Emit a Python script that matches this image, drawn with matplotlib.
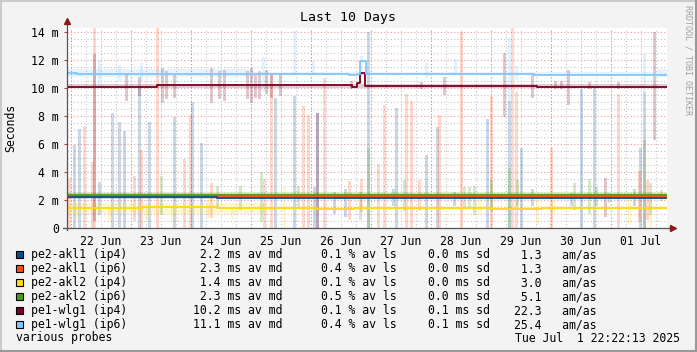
import matplotlib
matplotlib.use("Agg")
import matplotlib.pyplot as plt
import matplotlib.dates as mdates
from matplotlib.ticker import MultipleLocator, FuncFormatter
from matplotlib.lines import Line2D
from matplotlib.patches import Rectangle
from datetime import datetime, timedelta

plt.rcParams['font.family'] = ['DejaVu Sans Mono']

W, H = 697, 352
start = datetime(2025, 6, 21, 22, 22, 13)
span_h = 240  # 10 days

# targets, colours and summary columns
names = ["pe2-akl1 (ip4)", "pe2-akl1 (ip6)", "pe2-akl2 (ip4)",
         "pe2-akl2 (ip6)", "pe1-wlg1 (ip4)", "pe1-wlg1 (ip6)"]
colors = ["#0e4d8c", "#ff4a17", "#ffd816", "#4c9a1c", "#780024", "#84c6f8"]
av_md = [2.2, 2.3, 1.4, 2.3, 10.2, 11.1]
av_ls = [0.1, 0.4, 0.1, 0.5, 0.1, 0.4]
av_sd = [0.0, 0.0, 0.0, 0.0, 0.1, 0.1]
am_as = [1.3, 1.3, 3.0, 5.1, 22.3, 25.4]

# median lines: (hours since start, ms)
med_akl1_v4 = [(0, 2.19), (60, 2.17), (75, 2.12), (95, 2.16), (120, 2.13), (140, 2.16), (160, 2.14), (240, 2.14)]
med_akl1_v6 = [(0, 2.3), (240, 2.3)]
med_akl2_v4 = [(0, 1.45), (30, 1.47), (60, 1.45), (85, 1.40), (100, 1.36), (115, 1.42),
               (140, 1.40), (170, 1.37), (190, 1.40), (240, 1.40)]
med_akl2_v6 = [(0, 2.37), (240, 2.37)]
med_wlg1_v4 = [(0, 10.1), (36, 10.2), (114, 10.1), (116, 10.33), (117.4, 11.1),
               (119.4, 10.17), (188, 10.06), (240, 10.06)]
med_wlg1_v6 = [(0, 11.05), (4, 11.0), (113, 10.95), (116, 11.0), (117.4, 11.9),
               (119.8, 11.0), (187, 10.93), (240, 10.93)]

# background smoke bands: (from h, to h, low ms, high ms)
band_akl1_v4 = [(0, 240, 2.05, 2.35)]
band_akl1_v6 = [(0, 240, 2.15, 2.45)]
band_akl2_v4 = [(0, 80, 1.0, 1.75), (80, 240, 1.25, 1.6)]
band_akl2_v6 = [(0, 240, 2.2, 2.55)]
band_wlg1_v4 = [(0, 240, 10.0, 10.3)]
band_wlg1_v6 = [(0, 75, 10.75, 11.35), (75, 236, 10.95, 11.15), (236, 240, 10.75, 11.35)]

# smoke spikes: (hours since start, low ms, high ms)
spk_akl1_v4 = [(3.1, 0, 5.9), (5.1, 0, 7.1), (13.0, 0.9, 3.3), (18.2, 0, 8.2), (21.0, 0, 7.6),
               (23.0, 0, 6.9), (29.1, 0, 10.1), (33.0, 0, 7.6), (43.1, 0, 7.9), (50.2, 0, 9.0),
               (54.0, 0, 6.05), (83.5, 0, 9.3), (91.2, 0, 9.4), (99.0, 0, 2.9), (100.3, 0, 8.2),
               (107.1, 1.0, 2.6), (111.4, 0.8, 2.8), (120.7, 0, 14.0), (130.6, 1.6, 2.8),
               (131.9, 0, 8.55), (144.0, 0, 5.2), (148.4, 0, 7.2), (155.1, 1.6, 2.6),
               (168.3, 0, 7.8), (177.1, 0, 9.1), (181.9, 0, 5.7), (186.2, 1.6, 2.8),
               (202.0, 1.6, 2.5), (205.9, 0, 9.9), (211.1, 0, 10.0), (227.1, 1.6, 2.8),
               (229.4, 0, 5.7), (231.1, 0, 9.7)]
spk_akl1_v6 = [(1.0, 0, 3.6), (7.1, 0, 7.3), (10.2, 0, 4.7), (11.1, 0, 14.4), (27.0, 0.5, 3.7),
               (30.0, 0, 5.6), (36.2, 0, 14.4), (47.1, 0, 4.9), (49.4, 0, 8.1), (57.9, 0.7, 3.2),
               (79.1, 0, 3.5), (82.0, 0, 11.0), (94.7, 0, 8.7), (96.7, 0, 8.1), (103.1, 0, 10.7),
               (113.0, 0.6, 3.35), (118.0, 1.15, 3.5), (124.8, 0, 4.6), (127.1, 0, 8.8),
               (136.0, 0, 9.6), (138.0, 0, 9.1), (141.0, 1.2, 3.4), (149.1, 0, 8.1),
               (158.0, 0, 14.0), (169.9, 0, 9.4), (178.4, 0, 14.4), (179.9, 0, 9.7),
               (193.9, 0, 5.7), (220.7, 0, 9.6), (229.1, 0.45, 4.1), (232.4, 0.6, 3.4)]
spk_akl2_v4 = [(4.0, 0.6, 1.8), (17.0, 0.5, 1.6), (32.5, 0.6, 1.5), (42.5, 0.4, 1.5),
               (56.6, 0.7, 2.0), (66.2, 0.6, 1.5), (87.1, 0, 2.95), (165.2, 0.9, 2.2),
               (188.3, 0.3, 2.3), (194.6, 1.0, 2.0), (225.2, 0.3, 2.2), (233.4, 0, 2.6)]
spk_akl2_v6 = [(37.8, 0.9, 3.7), (60.2, 1.5, 3.0), (69.4, 1.3, 3.0), (78.0, 0.45, 4.0),
               (92.6, 1.5, 3.0), (117.4, 0.6, 2.6), (120.7, 0, 5.7), (135.1, 1.2, 3.4),
               (159.0, 1.4, 2.9), (161.2, 1.4, 2.9), (163.2, 0.9, 3.0), (169.9, 1.2, 3.4),
               (177.1, 0, 4.3), (180.2, 1.6, 3.4), (203.2, 1.3, 3.2), (209.1, 1.0, 3.5),
               (211.8, 1.6, 2.9), (217.0, 1.8, 2.5), (231.1, 0, 6.3), (233.4, 0.9, 3.2),
               (237.9, 1.9, 2.7)]
spk_wlg1_v4 = [(11.1, 0.5, 12.4), (24.0, 9.1, 11.0), (29.1, 9.4, 10.8), (38.2, 8.9, 11.4),
               (40.0, 9.2, 11.2), (43.1, 9.3, 11.0), (57.9, 8.9, 11.4), (61.2, 9.2, 11.2),
               (63.0, 9.1, 11.3), (72.2, 9.2, 11.2), (74.0, 8.9, 11.4), (75.4, 9.3, 11.0),
               (77.1, 9.2, 11.2), (80.0, 9.6, 11.3), (82.0, 9.3, 11.0), (85.4, 9.4, 11.1),
               (100.3, 0, 8.2), (114.0, 9.9, 10.5), (142.0, 9.9, 10.4), (151.1, 9.5, 10.8),
               (175.1, 7.95, 12.5), (186.2, 9.3, 10.9), (195.4, 9.9, 10.5), (198.0, 9.9, 10.5),
               (200.9, 8.8, 11.3), (209.1, 9.9, 10.4), (215.7, 0.8, 3.6), (220.7, 9.9, 10.4),
               (235.1, 6.3, 14.0)]
spk_wlg1_v6 = [(13.0, 10.0, 12.0), (21.0, 10.5, 11.65), (30.0, 10.5, 11.8), (78.6, 9.74, 12.24),
               (91.2, 10.9, 14.1), (98.7, 10.9, 11.9), (117.8, 10.9, 12.3), (144.0, 10.7, 11.8),
               (155.6, 10.9, 12.1), (177.1, 9.1, 13.55), (179.9, 10.6, 11.6), (231.1, 9.74, 12.5)]

medians = [med_akl1_v4, med_akl1_v6, med_akl2_v4, med_akl2_v6, med_wlg1_v4, med_wlg1_v6]
bands = [band_akl1_v4, band_akl1_v6, band_akl2_v4, band_akl2_v6, band_wlg1_v4, band_wlg1_v6]
spikes = [spk_akl1_v4, spk_akl1_v6, spk_akl2_v4, spk_akl2_v6, spk_wlg1_v4, spk_wlg1_v6]

t0 = mdates.date2num(start)
def tx(h):
    return t0 + h / 24.0

def px(x, y):
    return x / W, 1 - y / H

fig = plt.figure(figsize=(W / 100, H / 100), dpi=100, facecolor="#f3f3f3")
ax = fig.add_axes([66.6 / W, 1 - 228 / H, 600 / W, 200.5 / H], facecolor="white")

# smoke
for i in range(6):
    for h0, h1, lo, hi in bands[i]:
        ax.fill_between([tx(h0), tx(h1)], [lo, lo], [hi, hi], color=colors[i], alpha=0.2, lw=0, zorder=2)
    xs = [tx(s[0]) for s in spikes[i]]
    ax.bar(xs, [s[2] - s[1] for s in spikes[i]], bottom=[s[1] for s in spikes[i]],
           width=1.2 / 24, color=colors[i], alpha=0.22, lw=0, zorder=2)

# medians
for i in [2, 3, 1, 0, 4, 5]:
    ax.step([tx(p[0]) for p in medians[i]], [p[1] for p in medians[i]], where='post',
            color=colors[i], lw=1.3, zorder=4)

ax.set_xlim(tx(0), tx(span_h))
ax.set_ylim(0, 14.32)

# grid
grid_major = dict(color="#f08c8c", lw=0.8, ls=(0, (1, 2)), alpha=0.9)
grid_minor = dict(color="#c4c4c4", lw=0.8, ls=(0, (1, 2)))
ax.yaxis.set_major_locator(MultipleLocator(2))
ax.yaxis.set_minor_locator(MultipleLocator(0.5))
ax.yaxis.set_major_formatter(FuncFormatter(lambda v, p: "0" if v == 0 else "%d m" % v))
ax.grid(which="major", axis="y", **grid_major)
ax.grid(which="minor", axis="y", **grid_minor)
ax.xaxis.set_major_locator(mdates.HourLocator(byhour=[12]))
ax.xaxis.set_major_formatter(mdates.DateFormatter("%d %b"))
ax.xaxis.set_minor_locator(mdates.HourLocator(byhour=[0, 6, 18]))
ax.grid(which="minor", axis="x", **grid_minor)
ax.grid(which="major", axis="x", **grid_minor)
day = datetime(2025, 6, 22)
while day < start + timedelta(days=10):
    ax.axvline(mdates.date2num(day), zorder=1.5, **grid_major)
    day += timedelta(days=1)
ax.set_axisbelow(True)

ax.tick_params(axis="y", which="major", length=2.5, width=0.8, color="#b04040", pad=3, labelsize=8.3)
ax.tick_params(axis="y", which="minor", length=0)
ax.tick_params(axis="x", which="both", length=0, pad=5, labelsize=8.3)
for s in ax.spines.values():
    s.set_visible(False)

# axes with arrows
ax.plot([0, 0], [-0.012, 1.02], transform=ax.transAxes, color="#555555", lw=0.9, clip_on=False, zorder=5)
ax.plot([-0.006, 1.005], [0, 0], transform=ax.transAxes, color="#555555", lw=0.9, clip_on=False, zorder=5)
ax.plot([0], [1.03], marker="^", ms=4.5, color="#8b1a1a", transform=ax.transAxes, clip_on=False, zorder=6)
ax.plot([1.01], [0], marker=">", ms=4.5, color="#8b1a1a", transform=ax.transAxes, clip_on=False, zorder=6)

fig.text(*px(348, 18), "Last 10 Days", ha="center", va="center", fontsize=9.5)
fig.text(*px(11, 128), "Seconds", ha="center", va="center", rotation=90, fontsize=8.3)
fig.text(*px(688, 5), "RRDTOOL / TOBI OETIKER", ha="center", va="top", rotation=-90,
         fontsize=6, color="#a0a0a0")

# legend
for i in range(6):
    y = 254.5 + 14 * i
    fig.patches.append(Rectangle(px(15.5, y + 3.5), 7 / W, 7 / H, transform=fig.transFigure,
                                 facecolor=colors[i], edgecolor="black", lw=0.8))
    fig.text(*px(31, y), names[i], va="center", fontsize=8.3)
    fig.text(*px(193, y), "%4.1f ms av md" % av_md[i], va="center", fontsize=8.3)
    fig.text(*px(321, y), "%3.1f %% av ls" % av_ls[i], va="center", fontsize=8.3)
    fig.text(*px(428, y), "%3.1f ms sd" % av_sd[i], va="center", fontsize=8.3)
    fig.text(*px(514, y), "%4.1f   am/as" % am_as[i], va="center", fontsize=8.3)
fig.text(*px(16, 338), "various probes", va="center", fontsize=8.3)
fig.text(*px(680, 338), "Tue Jul  1 22:22:13 2025", ha="right", va="center", fontsize=8.3)

# 3d frame
for xs_, ys_, c in [([0, 1], [1 - 1 / H, 1 - 1 / H], "#cbcbcb"), ([0.5 / W, 0.5 / W], [0, 1], "#cbcbcb"),
                    ([0, 1], [1 / H, 1 / H], "#999999"), ([1 - 1 / W, 1 - 1 / W], [0, 1], "#999999")]:
    fig.lines.append(Line2D(xs_, ys_, transform=fig.transFigure, color=c, lw=1.5))

fig.savefig("out.png", dpi=100, facecolor=fig.get_facecolor())
